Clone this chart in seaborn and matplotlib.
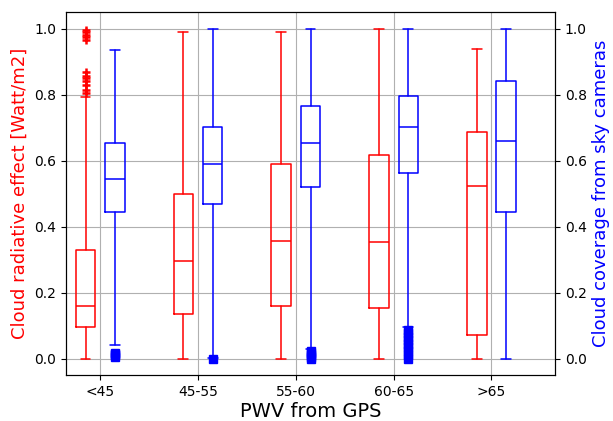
import numpy as np
import matplotlib
matplotlib.use("Agg")
import matplotlib.pyplot as plt
import seaborn as sns

categories = ["<45", "45-55", "55-60", "60-65", ">65"]

red_whislo = [0.0, 0.0, 0.0, 0.0, 0.0]
red_q1 = [0.097, 0.134, 0.159, 0.152, 0.073]
red_med = [0.158, 0.295, 0.357, 0.353, 0.524]
red_q3 = [0.328, 0.498, 0.589, 0.617, 0.686]
red_whishi = [0.792, 0.989, 0.989, 1.0, 0.937]
red_fliers = [
    [0.805, 0.815, 0.83, 0.84, 0.85, 0.855, 0.868, 0.965, 0.975, 0.98, 0.99, 0.995],
    [], [], [], [],
]

blue_whislo = [0.042, 0.003, 0.030, 0.097, 0.0]
blue_q1 = [0.444, 0.468, 0.521, 0.563, 0.445]
blue_med = [0.545, 0.589, 0.654, 0.703, 0.660]
blue_q3 = [0.654, 0.701, 0.765, 0.796, 0.841]
blue_whishi = [0.934, 1.0, 1.0, 1.0, 1.0]
blue_fliers = [
    [0.006, 0.01, 0.014, 0.018],
    [0.0],
    [0.0, 0.006, 0.012, 0.018, 0.024],
    [0.0, 0.012, 0.022, 0.035, 0.045, 0.055, 0.065, 0.078, 0.088],
    [],
]

sns.set_style("ticks", rc={
    "axes.edgecolor": "black",
    "axes.labelcolor": "black",
    "text.color": "black",
    "axes.linewidth": 1.0,
    "axes.grid": False,
    "grid.color": "#b0b0b0",
    "grid.linewidth": 0.8,
    "xtick.color": "black",
    "ytick.color": "black",
    "xtick.direction": "out",
    "ytick.direction": "out",
    "xtick.major.size": 3.5,
    "ytick.major.size": 3.5,
    "font.family": ["DejaVu Sans"],
})
plt.rcParams["font.size"] = 10
plt.rcParams["xtick.labelsize"] = 10
plt.rcParams["ytick.labelsize"] = 10


def make_stats(lo, q1, med, q3, hi, fl):
    return [dict(whislo=a, q1=b, med=c, q3=d, whishi=e, fliers=f)
            for a, b, c, d, e, f in zip(lo, q1, med, q3, hi, fl)]


fig = plt.figure(figsize=(6.13, 4.21), dpi=100)
ax1 = fig.add_subplot(111)
fig.subplots_adjust(left=0.1077, right=0.9054, bottom=0.109, top=0.9715)
ax2 = ax1.twinx()

pos = np.arange(len(categories))

def draw(ax, stats, positions, color, marker, mew):
    ax.bxp(stats, positions=positions, widths=0.2, manage_ticks=False,
           boxprops=dict(color=color, linewidth=1.1),
           whiskerprops=dict(color=color, linewidth=1.1),
           capprops=dict(color=color, linewidth=1.1),
           medianprops=dict(color=color, linewidth=1.1),
           flierprops=dict(marker=marker, markeredgecolor=color,
                           markerfacecolor=color, markersize=6,
                           markeredgewidth=mew, linestyle="none"))

draw(ax1, make_stats(red_whislo, red_q1, red_med, red_q3, red_whishi, red_fliers),
     pos - 0.15, "red", "+", 1.8)
draw(ax2, make_stats(blue_whislo, blue_q1, blue_med, blue_q3, blue_whishi, blue_fliers),
     pos + 0.15, "blue", "s", 1.0)

ax1.set_xticks(pos)
ax1.set_xticklabels(categories)
ax1.set_xlim(-0.35, 4.65)
ax1.set_ylim(-0.05, 1.05)
ax2.set_ylim(-0.05, 1.05)
ax1.set_yticks(np.arange(0, 1.01, 0.2))
ax2.set_yticks(np.arange(0, 1.01, 0.2))
ax1.grid(True)
ax2.grid(False)

ax1.set_xlabel("PWV from GPS", fontsize=14, labelpad=2.5)
ax1.set_ylabel("Cloud radiative effect [Watt/m2]", color="red", fontsize=13)
ax2.set_ylabel("Cloud coverage from sky cameras", color="blue", fontsize=13)

fig.savefig("out.png", dpi=100)
